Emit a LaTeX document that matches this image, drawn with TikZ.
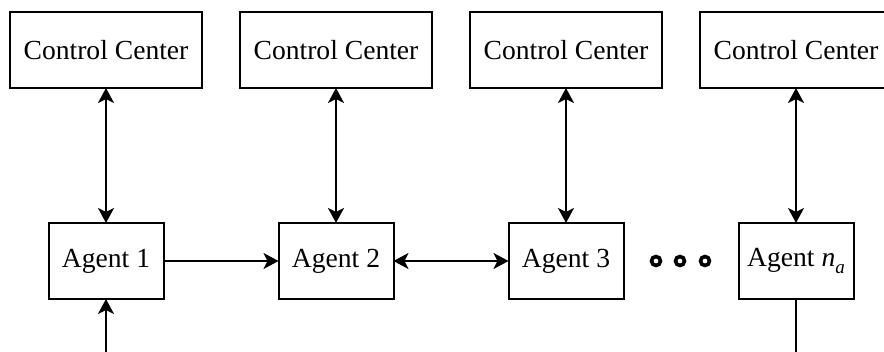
\documentclass[tikz,border=0pt]{standalone}
\usepackage{fontspec}
\setmainfont{Liberation Serif}
\usetikzlibrary{arrows.meta}
\begin{document}
\begin{tikzpicture}[x=1pt,y=-1pt,
  every node/.style={font=\fontsize{27.6}{33}\selectfont},
  ccbox/.style={draw, line width=2pt, minimum width=192pt, minimum height=76pt, inner sep=0pt, outer sep=0pt},
  agbox/.style={draw, line width=2pt, minimum width=115pt, minimum height=76pt, inner sep=0pt, outer sep=0pt},
  conn/.style={line width=2pt},
  tip/.tip={Stealth[length=15pt,width=16pt,inset=4pt]},
  dotc/.style={draw, circle, line width=3.6pt, minimum size=9pt, inner sep=0pt}
]
\useasboundingbox (0,0) rectangle (884,352);
\clip (0,0) rectangle (884,352);
\node[ccbox] (c1) at (106,50) {Control Center};
\node[ccbox] (c2) at (336,50) {Control Center};
\node[ccbox] (c3) at (566,50) {Control Center};
\node[ccbox] (c4) at (796,50) {Control Center};
\node[agbox] (a1) at (106,261) {Agent 1};
\node[agbox] (a2) at (336,261) {Agent 2};
\node[agbox] (a3) at (566,261) {Agent 3};
\node[agbox] (a4) at (796,261) {Agent {\itshape n}\raisebox{-0.22em}{\fontsize{19}{20}\selectfont\itshape a}};
\node[dotc] (d1) at (656,261) {};
\node[dotc] (d2) at (680,261) {};
\node[dotc] (d3) at (705,261) {};
\coordinate (b1) at (106,370);
\coordinate (b4) at (796,370);
\draw[conn,tip-tip] (c1) -- (a1);
\draw[conn,tip-tip] (c2) -- (a2);
\draw[conn,tip-tip] (c3) -- (a3);
\draw[conn,tip-tip] (c4) -- (a4);
\draw[conn,-tip] (a1) -- (a2);
\draw[conn,tip-tip] (a2) -- (a3);
\draw[conn,-tip] (b1) -- (a1);
\draw[conn] (a4) -- (b4);
\end{tikzpicture}
\end{document}
